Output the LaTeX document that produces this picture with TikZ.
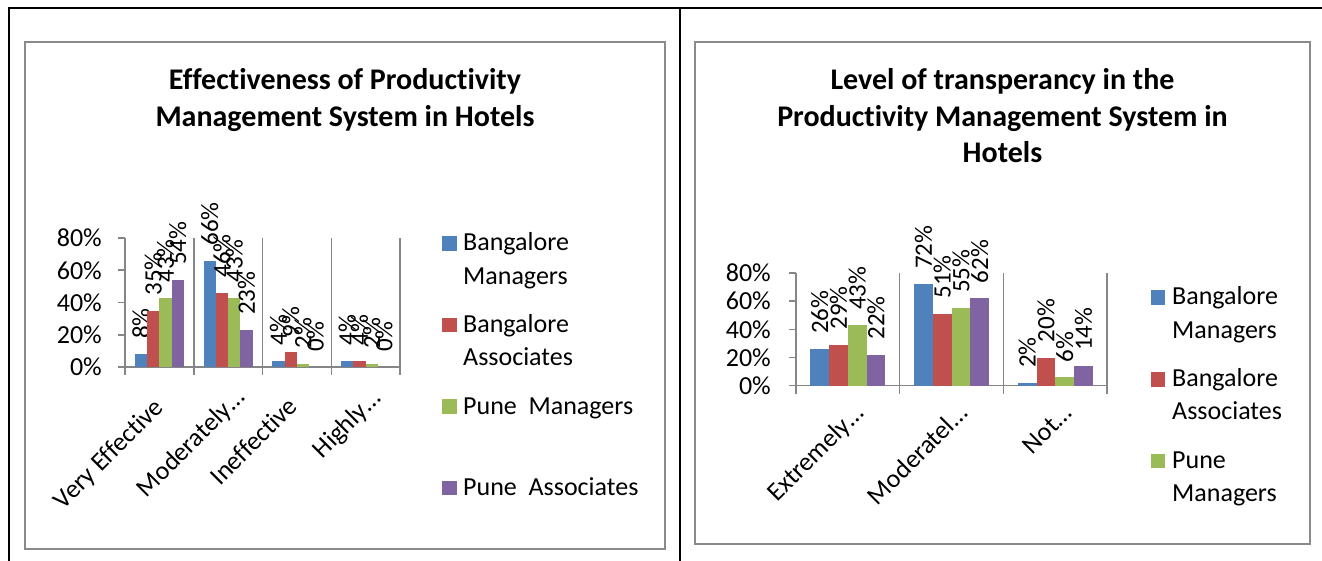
\documentclass[tikz,border=0pt]{standalone}
\usepackage{fontspec}
\setmainfont{Carlito}[Ligatures={NoCommon}]
\definecolor{sblue}{HTML}{4F81BD}
\definecolor{sred}{HTML}{C0504D}
\definecolor{sgreen}{HTML}{9BBB59}
\definecolor{spurple}{HTML}{8064A2}
\definecolor{gridgray}{HTML}{868686}
\definecolor{boxgray}{HTML}{8A8A8A}
\begin{document}
\begin{tikzpicture}[x=1pt,y=-1pt,
  frame/.style={black,line width=2pt},
  chartbox/.style={boxgray,line width=2.5pt},
  gridline/.style={gridgray,line width=1.5pt},
  ttl/.style={anchor=base,inner sep=0pt,font=\fontsize{30}{36}\selectfont\bfseries},
  txt/.style={inner sep=0pt,font=\fontsize{26}{31}\selectfont},
  dlabel/.style={inner sep=0pt,anchor=west,rotate=90,font=\fontsize{25}{30}\selectfont},
  catlabel/.style={inner sep=0pt,anchor=base east,rotate=45,font=\fontsize{26}{31}\selectfont},
  legsq/.style={inner sep=0pt,minimum size=14.5pt,anchor=south west}
]
\useasboundingbox (0,0) rectangle (1322,561);
\fill[white] (0,0) rectangle (1322,561);
% table frame
\draw[frame] (9,561) -- (9,8) -- (1322,8);
\draw[frame] (679.5,8) -- (679.5,561);
% chart boxes
\draw[chartbox] (25,42) rectangle (665,549);
\draw[chartbox] (695,42) rectangle (1310,544);

% ---------- Chart 1 ----------
\node[ttl] (t1a) at (345,90) {Effectiveness of Productivity};
\node[ttl] (t1b) at (345,126.5) {Management System in Hotels};
% y axis
\foreach \v in {0,20,40,60,80}{
  \node[txt,anchor=east] (c1y\v) at (102,{367-\v*1.6125}) {\v\%};
  \draw[gridline] (118,{367-\v*1.6125}) -- (125,{367-\v*1.6125});
}
\draw[gridline] (125,238) -- (125,375);
\draw[gridline] (118,367) -- (400,367);
\foreach \k in {1,2,3,4}{
  \draw[gridline] ({125+\k*68.75},238) -- ({125+\k*68.75},375);
}
% bars
\foreach \c/\va/\vb/\vc/\vd in {0/8/35/43/54,1/66/46/43/23,2/4/9/2/0,3/4/4/2/0}{
  \foreach \s/\v/\col in {0/\va/sblue,1/\vb/sred,2/\vc/sgreen,3/\vd/spurple}{
    \pgfmathsetmacro{\xl}{125+\c*68.75+9.875+\s*12.25}
    \pgfmathsetmacro{\yt}{367-\v*1.6125}
    \fill[\col] (\xl,367) rectangle ({\xl+12.25},\yt);
    \node[dlabel] (a\c\s) at ({\xl+6.125},{\yt-15}) {\v\%};
  }
}
% category labels
\node[catlabel] (c1x1) at (165,409) {Very Effective};
\node[catlabel] (c1x2) at (246,399) {Moderately…};
\node[catlabel] (c1x3) at (299,408) {Ineffective};
\node[catlabel] (c1x4) at (382,400) {Highly…};
% legend
\node[legsq,fill=sblue] (g1a) at (442,251) {};
\node[txt,anchor=base west] (g1at) at (463,251) {Bangalore};
\node[txt,anchor=base west] (g1at2) at (463,284) {Managers};
\node[legsq,fill=sred] (g1b) at (442,332.5) {};
\node[txt,anchor=base west] (g1bt) at (463,332.5) {Bangalore};
\node[txt,anchor=base west] (g1bt2) at (463,365.5) {Associates};
\node[legsq,fill=sgreen] (g1c) at (442,414) {};
\node[txt,anchor=base west] (g1ct) at (463,414) {Pune\ \ Managers};
\node[legsq,fill=spurple] (g1d) at (442,495.5) {};
\node[txt,anchor=base west] (g1dt) at (463,495.5) {Pune\ \ Associates};

% ---------- Chart 2 ----------
\node[ttl] (t2a) at (1002.5,90) {Level of transperancy in the};
\node[ttl] (t2b) at (1002.5,126.5) {Productivity Management System in};
\node[ttl] (t2c) at (1002.5,163) {Hotels};
\foreach \v in {0,20,40,60,80}{
  \node[txt,anchor=east] (c2y\v) at (771,{385.7-\v*1.41}) {\v\%};
  \draw[gridline] (789,{385.7-\v*1.41}) -- (796,{385.7-\v*1.41});
}
\draw[gridline] (796,273) -- (796,394);
\draw[gridline] (789,385.7) -- (1107,385.7);
\foreach \k in {1,2,3}{
  \draw[gridline] ({796+\k*103.7},273) -- ({796+\k*103.7},394);
}
\foreach \c/\va/\vb/\vc/\vd in {0/26/29/43/22,1/72/51/55/62,2/2/20/6/14}{
  \foreach \s/\v/\col in {0/\va/sblue,1/\vb/sred,2/\vc/sgreen,3/\vd/spurple}{
    \pgfmathsetmacro{\xl}{796+\c*103.7+14.35+\s*18.75}
    \pgfmathsetmacro{\yt}{385.7-\v*1.41}
    \fill[\col] (\xl,385.7) rectangle ({\xl+18.75},\yt);
    \node[dlabel] (b\c\s) at ({\xl+9.375},{\yt-15}) {\v\%};
  }
}
\node[catlabel] (c2x1) at (865,415) {Extremely…};
\node[catlabel] (c2x2) at (969,415) {Moderatel…};
\node[catlabel] (c2x3) at (1073,415) {Not…};
\node[legsq,fill=sblue] (g2a) at (1150.7,305) {};
\node[txt,anchor=base west] (g2at) at (1172,305) {Bangalore};
\node[txt,anchor=base west] (g2at2) at (1172,338) {Managers};
\node[legsq,fill=sred] (g2b) at (1150.7,386.7) {};
\node[txt,anchor=base west] (g2bt) at (1172,386.7) {Bangalore};
\node[txt,anchor=base west] (g2bt2) at (1172,419.7) {Associates};
\node[legsq,fill=sgreen] (g2c) at (1150.7,468.4) {};
\node[txt,anchor=base west] (g2ct) at (1172,468.4) {Pune};
\node[txt,anchor=base west] (g2ct2) at (1172,501.4) {Managers};
\end{tikzpicture}
\end{document}
